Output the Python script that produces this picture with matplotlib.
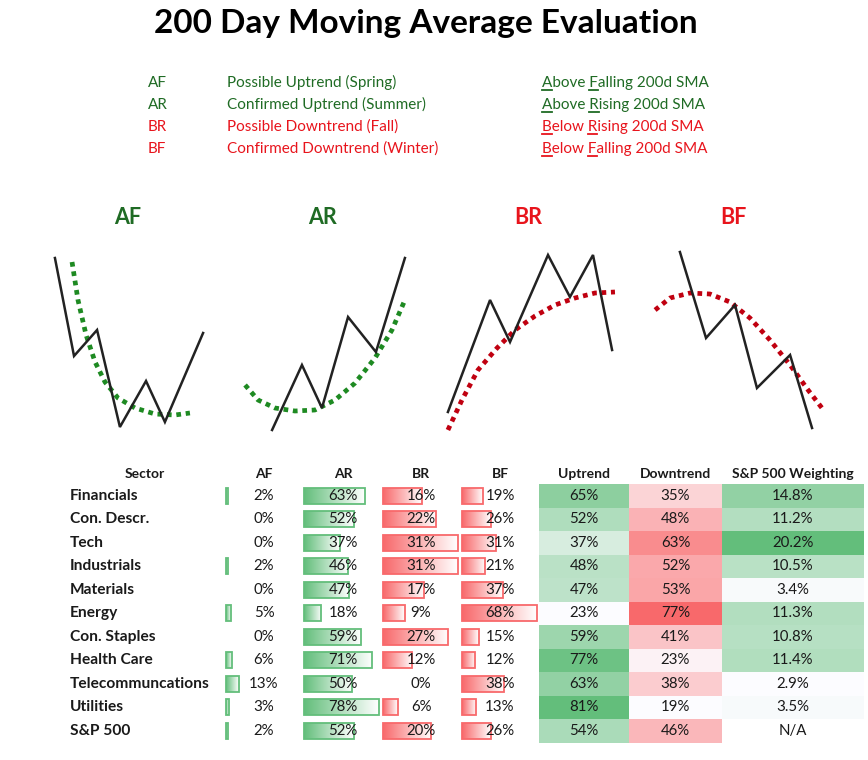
import numpy as np
import matplotlib
matplotlib.use("Agg")
import matplotlib.pyplot as plt
from matplotlib.colors import LinearSegmentedColormap, Normalize

plt.rcParams['font.family'] = ['Lato', 'DejaVu Sans']

# ---- data ----
codes = ["AF", "AR", "BR", "BF"]
phases = ["Possible Uptrend (Spring)", "Confirmed Uptrend (Summer)",
          "Possible Downtrend (Fall)", "Confirmed Downtrend (Winter)"]
meanings = ["Above Falling 200d SMA", "Above Rising 200d SMA",
            "Below Rising 200d SMA", "Below Falling 200d SMA"]
underlined = [[0, 6], [0, 6], [0, 6], [0, 6]]   # char index of underlined letters

sectors = ["Financials", "Con. Descr.", "Tech", "Industrials", "Materials", "Energy",
           "Con. Staples", "Health Care", "Telecommuncations", "Utilities", "S&P 500"]
af = [2, 0, 0, 2, 0, 5, 0, 6, 13, 3, 2]
ar = [63, 52, 37, 46, 47, 18, 59, 71, 50, 78, 52]
br = [16, 22, 31, 31, 17, 9, 27, 12, 0, 6, 20]
bf = [19, 26, 31, 21, 37, 68, 15, 12, 38, 13, 26]
uptrend = [65, 52, 37, 48, 47, 23, 59, 77, 63, 81, 54]
downtrend = [35, 48, 63, 52, 53, 77, 41, 23, 38, 19, 46]
weighting = [14.8, 11.2, 20.2, 10.5, 3.4, 11.3, 10.8, 11.4, 2.9, 3.5, None]

# sketch shapes (price path and 200d SMA, panel units 0-100)
af_price_x = [8.3, 18.9, 31.7, 44.4, 58.9, 69.4, 90.6]
af_price_y = [93.5, 44.5, 57.5, 9, 32, 11.5, 56]
af_sma_x = [17.8, 21.1, 25.6, 30.6, 36.1, 43.3, 52.8, 63.9, 75, 83.3]
af_sma_y = [91.5, 72.5, 55, 41.5, 31.5, 23.5, 18.5, 15.5, 15, 16]
ar_price_x = [20.6, 37.2, 48.3, 62.8, 78.3, 94.4]
ar_price_y = [7.5, 40, 18.5, 64, 46.5, 93.5]
ar_sma_x = [5.6, 12.8, 22.2, 33.3, 44.4, 55.6, 66.7, 77.8, 87.2, 94.4]
ar_sma_y = [30, 22.5, 18.5, 17, 17.5, 22.5, 31, 43.5, 57.5, 72.5]
br_price_x = [4.4, 27.8, 38.9, 60, 72.2, 85, 95.6]
br_price_y = [16.5, 72.5, 51.5, 95, 74, 95, 47.5]
br_sma_x = [4.4, 12.2, 21.1, 31.7, 41.7, 52.8, 63.9, 75, 86.1, 97.2]
br_sma_y = [7.5, 22.5, 37.5, 48.5, 57.5, 64.5, 70, 73.5, 76, 76.5]
bf_price_x = [19.4, 33.9, 50, 62.2, 80.6, 92.8]
bf_price_y = [96.5, 53.5, 70, 28.5, 45, 8.5]
bf_sma_x = [5.6, 13.9, 25, 36.1, 47.2, 58.3, 69.4, 80.6, 90.6, 98.3]
bf_sma_y = [67.5, 73.5, 76, 75.5, 71.5, 63.5, 52.5, 40, 27.5, 18.5]

# ---- styles ----
GREEN_TXT = "#1f6b24"
RED_TXT = "#e8141c"
SMA_GREEN = "#1e8a22"
SMA_RED = "#c00010"
BAR_GREEN = "#63BE7B"
BAR_RED = "#F8696B"
XL_WHITE = "#FCFCFF"
TXT = "#1a1a1a"

fig = plt.figure(figsize=(8.68, 7.6), dpi=100)
ax = fig.add_axes([0, 0, 1, 1])
ax.set_xlim(0, 868)
ax.set_ylim(760, 0)
ax.axis("off")
renderer = fig.canvas.get_renderer()


def text_width(s, **kw):
    t = ax.text(0, 0, s, **kw)
    w = t.get_window_extent(renderer).width
    t.remove()
    return w


# title
ax.text(426, 24, "200 Day Moving Average Evaluation", ha="center", va="center",
        fontsize=24, fontweight="bold", color="black")

# legend block
leg_y = [82, 104, 126, 148]
leg_fs = 11
for i in range(4):
    col = GREEN_TXT if i < 2 else RED_TXT
    base = leg_y[i] + 5
    kw = dict(fontsize=leg_fs, color=col, va="baseline", ha="left")
    ax.text(148, base, codes[i], **kw)
    ax.text(227, base, phases[i], **kw)
    ax.text(542, base, meanings[i], **kw)
    for ci in underlined[i]:
        s = meanings[i]
        right = text_width(s[:ci + 1], fontsize=leg_fs)
        left = right - text_width(s[ci], fontsize=leg_fs)
        ax.plot([542 + left, 542 + right], [base + 2.5, base + 2.5], color=col, lw=1.3)

# sketches
panels = [
    ("AF", 40, GREEN_TXT, SMA_GREEN, af_price_x, af_price_y, af_sma_x, af_sma_y),
    ("AR", 235, GREEN_TXT, SMA_GREEN, ar_price_x, ar_price_y, ar_sma_x, ar_sma_y),
    ("BR", 440, RED_TXT, SMA_RED, br_price_x, br_price_y, br_sma_x, br_sma_y),
    ("BF", 645, RED_TXT, SMA_RED, bf_price_x, bf_price_y, bf_sma_x, bf_sma_y),
]
for label, x0, tcol, scol, px, py, sx, sy in panels:
    ax.text(x0 + 88, 218, label, ha="center", va="center", fontsize=15.5,
            fontweight="bold", color=tcol)
    sax = fig.add_axes([x0 / 868, 1 - 445 / 760, 180 / 868, 200 / 760])
    sax.set_xlim(0, 100)
    sax.set_ylim(0, 100)
    sax.axis("off")
    sax.plot(sx, sy, color=scol, lw=3.4, linestyle=(0, (1, 1)), dash_capstyle="butt")
    sax.plot(px, py, color="#222222", lw=1.8, solid_joinstyle="miter")

# table
row_top, row_h = 484, 23.5
n = len(sectors)
row_y = [row_top + row_h * (i + 0.5) for i in range(n)]
hdr_y = 474
bh = 16

ax.text(145, hdr_y, "Sector", ha="center", va="center", fontsize=10, fontweight="bold", color=TXT)
for i, s in enumerate(sectors):
    ax.text(70, row_y[i], s, ha="left", va="center", fontsize=11.2, fontweight="bold", color=TXT)

bar_cols = [("AF", af, 226, 264, 1.0, BAR_GREEN),
            ("AR", ar, 304, 343, 75 / max(ar), BAR_GREEN),
            ("BR", br, 383, 421, 75 / max(br), BAR_RED),
            ("BF", bf, 462, 500, 75 / max(bf), BAR_RED)]
grad = np.linspace(0, 1, 256).reshape(1, -1)
for name, vals, x0, xc, scale, col in bar_cols:
    ax.text(xc, hdr_y, name, ha="center", va="center", fontsize=10, fontweight="bold", color=TXT)
    cmap = LinearSegmentedColormap.from_list(name, [col, "#ffffff"])
    ys = [row_y[i] for i, v in enumerate(vals) if v > 0]
    ws = [v * scale for v in vals if v > 0]
    for y, w in zip(ys, ws):
        ax.imshow(grad, cmap=cmap, extent=(x0, x0 + w, y + bh / 2, y - bh / 2),
                  aspect="auto", interpolation="bilinear", zorder=2)
    ax.barh(ys, ws, left=x0, height=bh, fill=False, edgecolor=col, lw=1.3, zorder=3)
    for i, v in enumerate(vals):
        ax.text(xc, row_y[i], f"{v}%", ha="center", va="center", fontsize=10.8,
                color=TXT, zorder=4)

heat_cols = [("Uptrend", uptrend, 539, 629, BAR_GREEN, "{:.0f}%"),
             ("Downtrend", downtrend, 629, 722, BAR_RED, "{:.0f}%"),
             ("S&P 500 Weighting", weighting, 722, 864, BAR_GREEN, "{:.1f}%")]
for name, vals, xl, xr, col, fmt in heat_cols:
    cmap = LinearSegmentedColormap.from_list(name, [XL_WHITE, col])
    valid = [v for v in vals if v is not None]
    norm = Normalize(min(valid), max(valid))
    colors = [cmap(norm(v)) if v is not None else "white" for v in vals]
    ax.barh(row_y, xr - xl, left=xl, height=row_h, color=colors, edgecolor="none", zorder=1)
    xc = (xl + xr) / 2
    ax.text(xc, hdr_y, name, ha="center", va="center", fontsize=10, fontweight="bold", color=TXT)
    for i, v in enumerate(vals):
        ax.text(xc, row_y[i], fmt.format(v) if v is not None else "N/A",
                ha="center", va="center", fontsize=10.8, color=TXT, zorder=4)

ax.set_xlim(0, 868)
ax.set_ylim(760, 0)
fig.savefig("out.png", dpi=100)
